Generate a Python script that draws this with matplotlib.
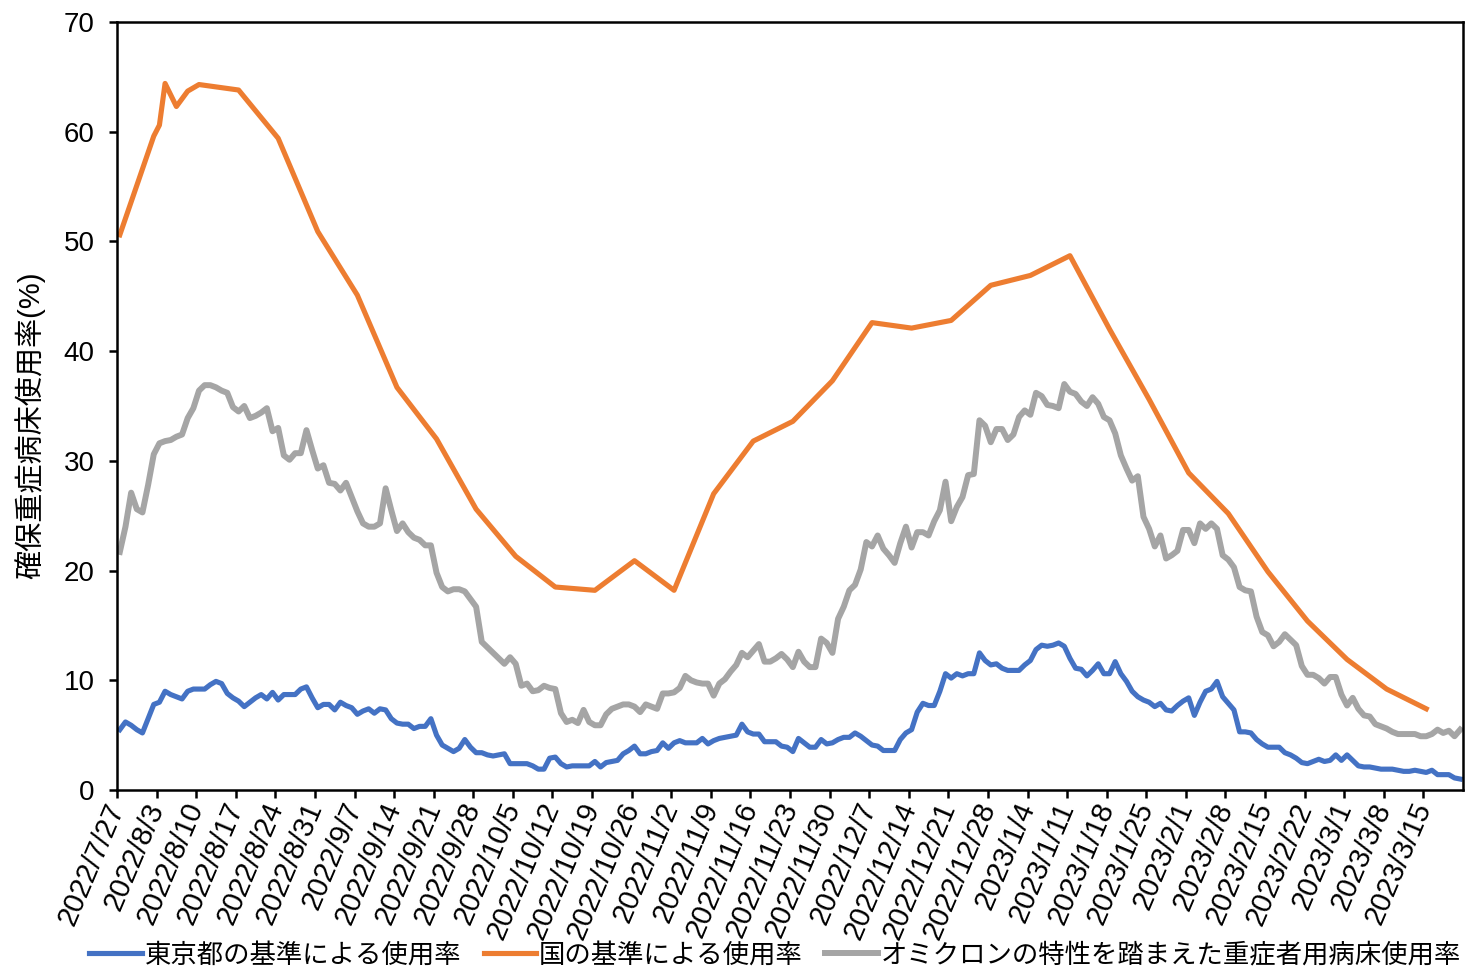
import matplotlib
matplotlib.use("Agg")
import matplotlib.pyplot as plt
import pandas as pd

plt.rcParams['font.family'] = ['Liberation Sans', 'Noto Sans CJK JP']

# daily series, one row per week starting 2022/7/27
tokyo = [
    5.5, 6.2, 5.9, 5.5, 5.2, 6.5, 7.8,
    8.0, 9.0, 8.7, 8.5, 8.3, 9.0, 9.2,
    9.2, 9.2, 9.6, 9.9, 9.7, 8.8, 8.4,
    8.1, 7.6, 8.0, 8.4, 8.7, 8.3, 8.9,
    8.2, 8.7, 8.7, 8.7, 9.2, 9.4, 8.4,
    7.5, 7.8, 7.8, 7.3, 8.0, 7.7, 7.5,
    6.9, 7.2, 7.4, 7.0, 7.4, 7.3, 6.5,
    6.1, 6.0, 6.0, 5.6, 5.8, 5.8, 6.5,
    5.0, 4.1, 3.8, 3.5, 3.8, 4.6, 3.9,
    3.4, 3.4, 3.2, 3.1, 3.2, 3.3, 2.4,
    2.4, 2.4, 2.4, 2.2, 1.9, 1.9, 2.9,
    3.0, 2.4, 2.1, 2.2, 2.2, 2.2, 2.2,
    2.6, 2.1, 2.5, 2.6, 2.7, 3.3, 3.6,
    4.0, 3.3, 3.3, 3.5, 3.6, 4.3, 3.8,
    4.3, 4.5, 4.3, 4.3, 4.3, 4.7, 4.2,
    4.5, 4.7, 4.8, 4.9, 5.0, 6.0, 5.3,
    5.1, 5.1, 4.4, 4.4, 4.4, 4.0, 3.9,
    3.5, 4.7, 4.3, 3.9, 3.9, 4.6, 4.2,
    4.3, 4.6, 4.8, 4.8, 5.2, 4.9, 4.5,
    4.1, 4.0, 3.6, 3.6, 3.6, 4.6, 5.2,
    5.5, 7.1, 7.9, 7.7, 7.7, 9.0, 10.6,
    10.2, 10.6, 10.4, 10.6, 10.6, 12.5, 11.8,
    11.4, 11.5, 11.1, 10.9, 10.9, 10.9, 11.4,
    11.8, 12.8, 13.2, 13.1, 13.2, 13.4, 13.1,
    12.0, 11.1, 11.0, 10.4, 10.9, 11.5, 10.6,
    10.6, 11.7, 10.6, 9.9, 9.0, 8.5, 8.2,
    8.0, 7.6, 7.9, 7.3, 7.2, 7.7, 8.1,
    8.4, 6.8, 8.0, 9.0, 9.2, 9.9, 8.5,
    7.9, 7.3, 5.3, 5.3, 5.2, 4.6, 4.2,
    3.9, 3.9, 3.9, 3.4, 3.2, 2.9, 2.5,
    2.4, 2.6, 2.8, 2.6, 2.7, 3.2, 2.7,
    3.2, 2.7, 2.2, 2.1, 2.1, 2.0, 1.9,
    1.9, 1.9, 1.8, 1.7, 1.7, 1.8, 1.7,
    1.6, 1.8, 1.4, 1.4, 1.4, 1.1, 1.0,
]

omicron = [
    21.7, 24.0, 27.1, 25.6, 25.3, 27.8, 30.6,
    31.6, 31.8, 31.9, 32.2, 32.4, 33.9, 34.8,
    36.4, 36.9, 36.9, 36.7, 36.4, 36.2, 34.9,
    34.5, 35.0, 33.9, 34.1, 34.4, 34.8, 32.7,
    33.0, 30.5, 30.1, 30.7, 30.7, 32.8, 31.0,
    29.3, 29.6, 28.0, 27.9, 27.3, 28.0, 26.7,
    25.4, 24.3, 24.0, 24.0, 24.3, 27.5, 25.5,
    23.6, 24.3, 23.5, 23.0, 22.8, 22.3, 22.3,
    19.8, 18.5, 18.1, 18.3, 18.3, 18.1, 17.4,
    16.7, 13.5, 13.0, 12.5, 12.0, 11.5, 12.1,
    11.5, 9.5, 9.7, 9.0, 9.1, 9.5, 9.3,
    9.2, 7.0, 6.2, 6.4, 6.1, 7.3, 6.2,
    5.9, 5.9, 6.9, 7.4, 7.6, 7.8, 7.8,
    7.6, 7.1, 7.8, 7.6, 7.4, 8.8, 8.8,
    8.9, 9.3, 10.4, 10.0, 9.8, 9.7, 9.7,
    8.6, 9.7, 10.1, 10.8, 11.4, 12.5, 12.1,
    12.7, 13.3, 11.7, 11.7, 12.0, 12.4, 11.9,
    11.2, 12.6, 11.7, 11.2, 11.2, 13.8, 13.4,
    12.5, 15.6, 16.7, 18.2, 18.7, 20.1, 22.6,
    22.2, 23.2, 22.0, 21.4, 20.7, 22.5, 24.0,
    22.1, 23.5, 23.5, 23.2, 24.5, 25.5, 28.1,
    24.5, 25.8, 26.7, 28.7, 28.8, 33.7, 33.2,
    31.7, 32.9, 32.9, 31.9, 32.4, 34.0, 34.6,
    34.2, 36.2, 35.9, 35.1, 35.0, 34.8, 37.0,
    36.3, 36.1, 35.4, 35.0, 35.8, 35.2, 34.0,
    33.7, 32.5, 30.5, 29.3, 28.2, 28.6, 24.9,
    23.8, 22.2, 23.2, 21.1, 21.4, 21.8, 23.7,
    23.7, 22.5, 24.3, 23.8, 24.3, 23.8, 21.4,
    21.0, 20.3, 18.5, 18.2, 18.1, 15.8, 14.4,
    14.1, 13.1, 13.5, 14.2, 13.7, 13.2, 11.3,
    10.5, 10.5, 10.2, 9.7, 10.3, 10.3, 8.7,
    7.7, 8.4, 7.4, 6.8, 6.7, 6.0, 5.8,
    5.6, 5.3, 5.1, 5.1, 5.1, 5.1, 4.9,
    4.9, 5.1, 5.5, 5.2, 5.4, 4.9, 5.5,
]

# national standard: only reported on some days (day offset from 2022/7/27)
national_days = [0, 6, 7, 8, 10, 12, 14, 21, 28, 35, 42, 49, 56, 63, 70, 77, 84,
                 91, 98, 105, 112, 119, 126, 133, 140, 147, 154, 161, 168, 175,
                 182, 189, 196, 203, 210, 217, 224, 231]
national = [50.6, 59.6, 60.6, 64.4, 62.3, 63.7, 64.3, 63.8, 59.4, 50.9, 45.1,
            36.7, 32.0, 25.6, 21.3, 18.5, 18.2, 20.9, 18.2, 27.0, 31.8, 33.6,
            37.3, 42.6, 42.1, 42.8, 46.0, 46.9, 48.7, 42.0, 35.6, 28.9, 25.2,
            19.9, 15.4, 11.9, 9.2, 7.4]

dates = pd.date_range("2022-07-27", periods=len(tokyo), freq="D")
tick_labels = [f"{d.year}/{d.month}/{d.day}" for d in dates[::7]]

names = ["東京都の基準による使用率", "国の基準による使用率",
         "オミクロンの特性を踏まえた重症者用病床使用率"]
colors = ["#4472C4", "#ED7D31", "#A5A5A5"]

fig = plt.figure(figsize=(14.66, 9.67), dpi=100)
ax = fig.add_axes([117 / 1466, 1 - 790 / 967, 1346 / 1466, 768 / 967])

days = list(range(len(tokyo)))
ax.plot(days, tokyo, color=colors[0], lw=3.7, label=names[0], solid_joinstyle='round')
ax.plot(national_days, national, color=colors[1], lw=3.7, label=names[1], solid_joinstyle='round')
ax.plot(days, omicron, color=colors[2], lw=4.3, label=names[2], solid_joinstyle='round')

ax.set_xlim(-0.5, len(tokyo) - 0.5)
ax.set_ylim(0, 70)
ax.set_yticks(range(0, 71, 10))
ax.set_xticks([i * 7 - 0.5 for i in range(len(tick_labels))])
ax.set_xticklabels(tick_labels, rotation=67, ha='right', va='center',
                   rotation_mode='anchor', fontsize=21)
ax.tick_params(axis='y', labelsize=20, length=6, width=1.8, pad=10)
ax.tick_params(axis='x', length=6, width=1.8, pad=4)
for s in ax.spines.values():
    s.set_linewidth(1.8)

fig.text(30 / 1466, 1 - 425 / 967, "確保重症病床使用率(%)", rotation=90,
         ha='center', va='center', fontsize=21)

fig.legend(loc='center', bbox_to_anchor=(775 / 1466, 1 - 955 / 967),
           ncol=3, frameon=False, fontsize=19, handlelength=2.0,
           handletextpad=0.1, columnspacing=0.85, borderaxespad=0,
           borderpad=0)

fig.savefig("out.png", dpi=100)
